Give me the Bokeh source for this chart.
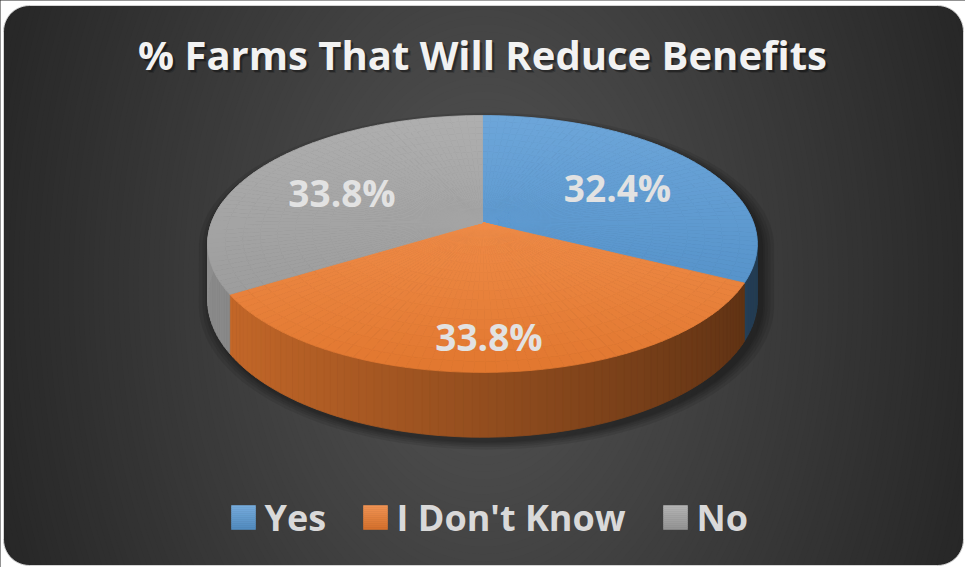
import numpy as np
from bokeh.plotting import figure
from bokeh.models import Range1d
from bokeh.embed import file_html
from bokeh.resources import INLINE
from bokeh.core.properties import value

# ---------------- data ----------------
chart_title = "% Farms That Will Reduce Benefits"
categories = ["Yes", "I Don't Know", "No"]
percents = [32.4, 33.8, 33.8]
slice_colors = ["#5B9BD5", "#ED7D31", "#A5A5A5"]

# ---------------- layout / style ----------------
W, H = 965, 567
FRAME_L, FRAME_T, FRAME_R, FRAME_B = 3, 5, 963, 565
CORNER_R = 26
PIE_CX = 482.0
PERSP_A, PERSP_B, PERSP_C, PIE_K = 87.8, 222.0, -0.167, 271.0
PIE_DEPTH = 54.0
LABEL_R = 0.6
FONT = "Open Sans"
LEGEND_X = [231, 363, 663]
LEGEND_Y = 517
LEGEND_BOX = 24


def hex2rgb(h):
    h = h.lstrip("#")
    return np.array([int(h[i:i + 2], 16) for i in (0, 2, 4)], dtype=float)


def rgb2hex(c):
    c = np.clip(np.round(c), 0, 255).astype(int)
    return "#%02x%02x%02x" % tuple(c)


def mix(c1, c2, t):
    return c1 * (1 - t) + c2 * t


WHITE = np.array([255.0, 255.0, 255.0])


def proj(X, Y):
    den = 1 + PERSP_C * Y
    return PIE_CX + PIE_K * X / den, (PERSP_A * Y + PERSP_B) / den


def top_pt(theta, r=1.0):
    t = np.radians(theta)
    return proj(r * np.sin(t), -r * np.cos(t))


def bottom_pt(theta):
    t = np.radians(theta)
    Y = -np.cos(t)
    x, y = proj(np.sin(t), Y)
    return x, y + PIE_DEPTH / (1 + PERSP_C * Y)


def poly_area_centroid(xs, ys):
    xs = np.asarray(xs, float)
    ys = np.asarray(ys, float)
    x1, y1 = np.roll(xs, -1), np.roll(ys, -1)
    cr = xs * y1 - x1 * ys
    a = cr.sum() / 2
    if abs(a) < 1e-9:
        return 0.0, xs.mean(), ys.mean()
    cx = ((xs + x1) * cr).sum() / (6 * a)
    cy = ((ys + y1) * cr).sum() / (6 * a)
    return abs(a), cx, cy


def rrect(l, t, r, b, rad, n=14):
    pts = []
    corners = [(r - rad, t + rad, -90, 0), (r - rad, b - rad, 0, 90),
               (l + rad, b - rad, 90, 180), (l + rad, t + rad, 180, 270)]
    for cx, cy, a0, a1 in corners:
        for a in np.radians(np.linspace(a0, a1, n)):
            pts.append((cx + rad * np.cos(a), cy + rad * np.sin(a)))
    return [q[0] for q in pts], [q[1] for q in pts]


def convex_hull(points):
    pts = sorted(set(points))
    def cross(o, a, b):
        return (a[0] - o[0]) * (b[1] - o[1]) - (a[1] - o[1]) * (b[0] - o[0])
    lower, upper = [], []
    for q in pts:
        while len(lower) >= 2 and cross(lower[-2], lower[-1], q) <= 0:
            lower.pop()
        lower.append(q)
    for q in reversed(pts):
        while len(upper) >= 2 and cross(upper[-2], upper[-1], q) <= 0:
            upper.pop()
        upper.append(q)
    return lower[:-1] + upper[:-1]


p = figure(width=W, height=H, x_range=Range1d(0, W), y_range=Range1d(H, 0),
           output_backend="svg", toolbar_location=None, min_border=0,
           x_axis_location=None, y_axis_location=None)
p.grid.visible = False
p.outline_line_color = None
p.background_fill_color = "white"
p.border_fill_color = "white"

# ---- background radial gradient ----
ds = np.arange(620, 0, -5.0)
ring_cols = [rgb2hex(np.array([1, 1, 1]) * max(37.0, 84.0 - 0.088 * d)) for d in ds]
p.ellipse(x=483, y=285, width=2 * ds, height=2 * ds / 0.67, fill_color=ring_cols,
          line_color=None)

# ---- outside mask with rounded frame ----
hx, hy = rrect(FRAME_L, FRAME_T, FRAME_R, FRAME_B, CORNER_R)
p.multi_polygons(xs=[[[[-5, W + 5, W + 5, -5], hx]]],
                 ys=[[[[-5, -5, H + 5, H + 5], hy]]],
                 fill_color="white", line_color=None)
p.line(x=hx + [hx[0]], y=hy + [hy[0]], line_color="#d4d4d4", line_width=1)

# ---- slice geometry ----
total = float(sum(percents))
starts = np.concatenate([[0.0], np.cumsum(percents)]) / total * 360.0

# soft shadow under the pie
ths = np.linspace(0, 360, 181)
hull_src = [tuple(np.round(top_pt(t), 3)) for t in ths] + [tuple(np.round(bottom_pt(t), 3)) for t in ths]
hull = convex_hull(hull_src)
hcx = np.mean([q[0] for q in hull])
hcy = np.mean([q[1] for q in hull])
sh_xs, sh_ys = [], []
for s in [14, 10, 7, 4, 2]:
    sc = 1 + s / 300.0
    sh_xs.append([hcx + (q[0] - hcx) * sc + 4 for q in hull])
    sh_ys.append([hcy + (q[1] - hcy) * sc + 4 for q in hull])
p.patches(xs=sh_xs, ys=sh_ys, fill_color="black", fill_alpha=0.09, line_color=None)

side_xs, side_ys, side_cols = [], [], []
top_xs, top_ys, top_cols = [], [], []
label_pos = []
for i in range(len(percents)):
    a0, a1 = starts[i], starts[i + 1]
    base = hex2rgb(slice_colors[i])
    side_acc = [0.0, 0.0, 0.0]
    top_area = 0.0
    # side wall (front part)
    lo, hi = max(a0, 80.0), min(a1, 280.0)
    if hi > lo:
        n = int(np.ceil((hi - lo) / 1.5))
        tt = np.linspace(lo, hi, n + 1)
        for k in range(n):
            ta, tb = tt[k], tt[k + 1]
            xa, ya = top_pt(ta)
            xb, yb = top_pt(tb)
            xc, yc = bottom_pt(tb)
            xd, yd = bottom_pt(ta)
            qx, qy = [xa, xb, xc, xd], [ya, yb, yc, yd]
            side_xs.append(qx)
            side_ys.append(qy)
            f = 0.62 - 0.24 * np.sin(np.radians((ta + tb) / 2))
            side_cols.append(rgb2hex(base * f))
            if 95 <= (ta + tb) / 2 <= 265:
                a, cx, cy = poly_area_centroid(qx, qy)
                side_acc[0] += a
                side_acc[1] += a * cx
                side_acc[2] += a * cy
    # top face
    nr = 16
    na = max(6, int((a1 - a0) / 2))
    rs = np.linspace(0, 1, nr + 1)
    ts = np.linspace(a0, a1, na + 1)
    cells = []
    vmin, vmax = 1e9, -1e9
    for ri in range(nr):
        for ti in range(na):
            c = [top_pt(ts[ti], rs[ri]), top_pt(ts[ti], rs[ri + 1]),
                 top_pt(ts[ti + 1], rs[ri + 1]), top_pt(ts[ti + 1], rs[ri])]
            qx = [q[0] for q in c]
            qy = [q[1] for q in c]
            cells.append((qx, qy))
            vmin = min(vmin, min(qy))
            vmax = max(vmax, max(qy))
    light = mix(base, WHITE, 0.11)
    dark = base * 0.95
    for qx, qy in cells:
        tv = (np.mean(qy) - vmin) / (vmax - vmin)
        top_xs.append(qx)
        top_ys.append(qy)
        top_cols.append(rgb2hex(mix(light, dark, tv)))
        top_area += poly_area_centroid(qx, qy)[0]
    # label: flat-centre point of the top face, pulled toward the visible wall
    tx, ty = top_pt((a0 + a1) / 2, LABEL_R)
    wa = side_acc[0]
    if wa > 0:
        sx, sy = side_acc[1] / wa, side_acc[2] / wa
        lx = (tx * top_area + sx * wa) / (top_area + wa)
        ly = (ty * top_area + sy * wa) / (top_area + wa)
    else:
        lx, ly = tx, ty
    label_pos.append((lx, ly))

p.patches(xs=side_xs, ys=side_ys, fill_color=side_cols, line_color=side_cols, line_width=0.8)
p.patches(xs=top_xs, ys=top_ys, fill_color=top_cols, line_color=top_cols, line_width=0.8)

# ---- data labels ----
lab_text = ["%.1f%%" % v for v in percents]
p.text(x=[q[0] for q in label_pos], y=[q[1] for q in label_pos], text=lab_text,
       text_align="center", text_baseline="middle", text_font=value(FONT),
       text_font_style="bold", text_font_size="37px", text_color="#e2e2e2")

# ---- legend ----
lg_xs, lg_ys, lg_cols = [], [], []
nstrip = 12
for i, x0 in enumerate(LEGEND_X):
    base = hex2rgb(slice_colors[i])
    for k in range(nstrip):
        y0 = LEGEND_Y - LEGEND_BOX / 2 + k * LEGEND_BOX / nstrip
        y1 = y0 + LEGEND_BOX / nstrip
        lg_xs.append([x0, x0 + LEGEND_BOX, x0 + LEGEND_BOX, x0])
        lg_ys.append([y0, y0, y1, y1])
        lg_cols.append(rgb2hex(mix(mix(base, WHITE, 0.16), base * 0.9, k / (nstrip - 1))))
p.patches(xs=lg_xs, ys=lg_ys, fill_color=lg_cols, line_color=lg_cols, line_width=0.6)
p.text(x=[x + LEGEND_BOX + 9 for x in LEGEND_X], y=[LEGEND_Y] * 3, text=categories,
       text_align="left", text_baseline="middle", text_font=value(FONT),
       text_font_style="bold", text_font_size="36px", text_color="#d9d9d9")

# ---- title (with soft drop shadow) ----
for dx, dy, al in [(3.0, 3.0, 0.18), (2.0, 2.0, 0.3)]:
    p.text(x=[482 + dx], y=[54 + dy], text=[chart_title], text_align="center",
           text_baseline="middle", text_font=value(FONT), text_font_style="bold",
           text_font_size="40px", text_color="black", text_alpha=al)
p.text(x=[482], y=[54], text=[chart_title], text_align="center", text_baseline="middle",
       text_font=value(FONT), text_font_style="bold", text_font_size="40px",
       text_color="#f2f2f2")

open("out.html", "w").write(file_html(p, INLINE))
